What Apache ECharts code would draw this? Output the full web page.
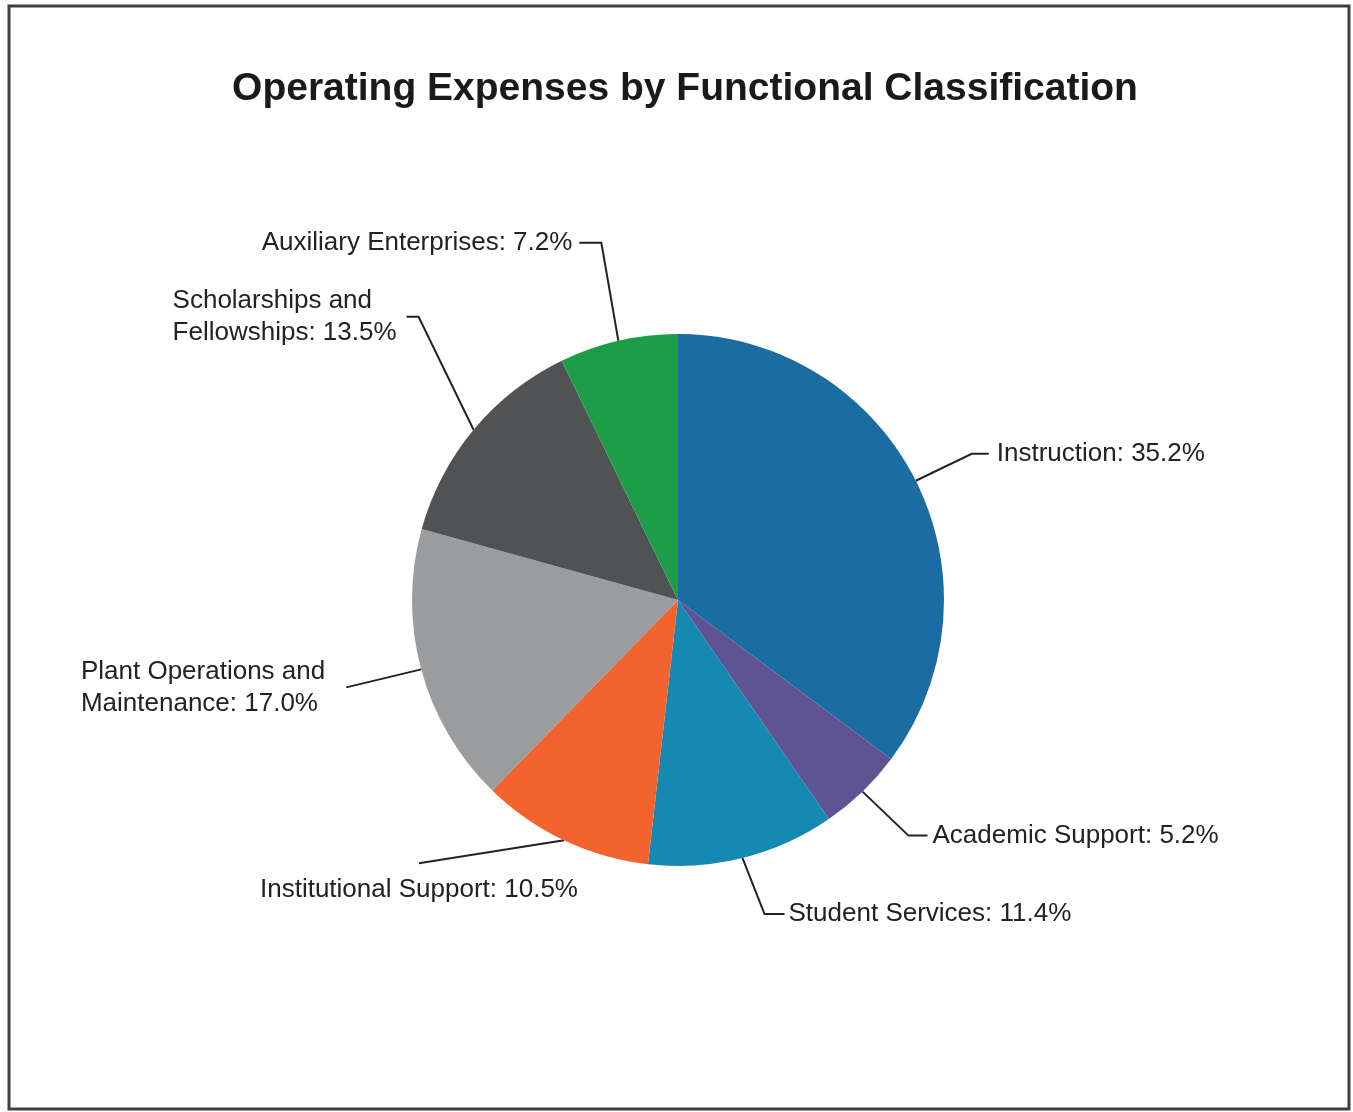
<!DOCTYPE html>
<html>
<head>
<meta charset="utf-8">
<title>Operating Expenses by Functional Classification</title>
<script src="https://cdn.jsdelivr.net/npm/echarts@6/dist/echarts.min.js"></script>
<style>
  html, body { margin: 0; padding: 0; background: #ffffff; }
  #chart { width: 1353px; height: 1112px; }
</style>
</head>
<body>
<div id="chart"></div>
<script>
// Functional expense categories, clockwise from 12 o'clock
const categories = [
  'Instruction',
  'Academic Support',
  'Student Services',
  'Institutional Support',
  'Plant Operations and\nMaintenance',
  'Scholarships and\nFellowships',
  'Auxiliary Enterprises'
];

// Share of total operating expenses (%)
const shares = [35.2, 5.2, 11.4, 10.5, 17.0, 13.5, 7.2];

const sliceColors = ['#1b6ca3', '#5e5494', '#1689b3', '#f26330', '#9a9c9e', '#505254', '#1e9d48'];

// Leader-line shape for each slice: elbow offset from the rim point,
// horizontal run after the elbow, gap to the text and which side the text sits on.
const guides = [
  { elbow: [56, -27],   run: 17,  gap: 8,  side: 'right' },
  { elbow: [46, 44],    run: 19,  gap: 5,  side: 'right' },
  { elbow: [22, 56],    run: 20,  gap: 4,  side: 'right' },
  { elbow: [-145, 23],  run: 0,   drop: 27, side: 'below' },
  { elbow: [-75, 18],   run: 0,   gap: 21, side: 'left' },
  { elbow: [-55, -113], run: -12, gap: 10, side: 'left' },
  { elbow: [-17, -98],  run: -22, gap: 7,  side: 'left' }
];

const chart = echarts.init(document.getElementById('chart'), null, { renderer: 'canvas' });

chart.setOption({
  animation: false,
  backgroundColor: '#ffffff',
  title: {
    text: 'Operating Expenses by Functional Classification',
    left: 680,
    textAlign: 'center',
    top: 65,
    textStyle: {
      fontFamily: '"Liberation Sans", Arial, sans-serif',
      fontWeight: 'bold',
      fontSize: 39,
      color: '#1a1a1a'
    }
  },
  graphic: [{
    type: 'rect',
    shape: { x: 9, y: 6, width: 1340, height: 1103 },
    style: { fill: 'none', stroke: '#3f3f3f', lineWidth: 3 },
    silent: true
  }],
  series: [{
    type: 'pie',
    center: [678, 600],
    radius: 266,
    startAngle: 90,
    clockwise: true,
    avoidLabelOverlap: false,
    color: sliceColors,
    itemStyle: { borderWidth: 0 },
    label: {
      show: true,
      position: 'outside',
      fontFamily: '"Liberation Sans", Arial, sans-serif',
      fontSize: 26,
      lineHeight: 32,
      color: '#222222',
      formatter: p => p.name + ': ' + p.value.toFixed(1) + '%'
    },
    labelLine: {
      show: true,
      length: 20,
      length2: 20,
      lineStyle: { color: '#222222', width: 2 }
    },
    labelLayout: function (p) {
      const g = guides[p.dataIndex];
      const pts = p.labelLinePoints;
      if (!g || !pts) return {};
      const p0 = pts[0];
      const p1 = [p0[0] + g.elbow[0], p0[1] + g.elbow[1]];
      const p2 = [p1[0] + g.run, p1[1]];
      const out = { labelLinePoints: [p0, p1, p2], align: 'left', verticalAlign: 'middle' };
      if (g.side === 'right') {
        out.x = p2[0] + g.gap; out.y = p2[1];
      } else if (g.side === 'left') {
        out.x = p2[0] - g.gap - p.labelRect.width; out.y = p2[1];
      } else {
        out.x = p2[0]; out.y = p2[1] + g.drop; out.align = 'center';
      }
      return out;
    },
    emphasis: { disabled: true },
    data: categories.map((name, i) => ({ name: name, value: shares[i] }))
  }]
});
</script>
</body>
</html>
